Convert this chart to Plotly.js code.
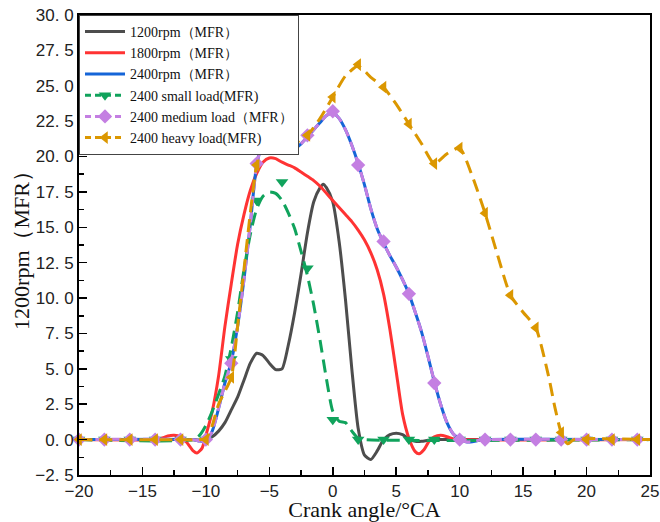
<!DOCTYPE html>
<html>
<head>
<meta charset="utf-8">
<script src="https://cdn.plot.ly/plotly-3.0.1.min.js"></script>
<style>html,body{margin:0;padding:0;background:#fff;}#chart{width:660px;height:522px;}</style>
</head>
<body>
<div id="chart"></div>
<script>
// ---- data ----
const seriesNames = ["1200rpm（MFR）", "1800rpm（MFR）", "2400rpm（MFR）",
  "2400 small load(MFR)", "2400 medium load（MFR）", "2400 heavy load(MFR)"];

const rpm1200_x = [-20,-12,-10,-9.5,-9,-8.5,-8,-7.5,-7,-6.5,-6,-5.5,-5,-4.5,-4,-3.5,-3,-2.5,-2,-1.5,-1,-0.75,-0.5,0,0.5,1,1.5,2,2.5,3,3.5,4,4.5,5,5.5,6,6.5,7,7.5,8,10,15,20,25];
const rpm1200_y = [0,0,0,0.2,0.6,1.2,2.1,3.0,4.2,5.4,6.1,5.95,5.4,4.95,5.0,6.7,9.0,11.7,14.6,16.8,17.8,18.05,17.8,16.8,14.0,9.9,5.0,0.8,-1.1,-1.4,-0.8,0,0.35,0.45,0.35,0.05,-0.12,-0.12,-0.05,0,0,0,0,0];

const rpm1800_x = [-20,-14,-13.5,-13,-12.5,-12,-11.5,-11,-10.7,-10.3,-10,-9.5,-9,-8.5,-8,-7.5,-7,-6.5,-6,-5.5,-5,-4.5,-4,-3.5,-3,-2.5,-2,-1.5,-1,-0.5,0,0.5,1,1.5,2,2.5,3,3.5,4,4.5,5,5.5,6,6.5,6.8,7.2,7.6,8,8.5,9,9.5,10,25];
const rpm1800_y = [0,0,0.1,0.25,0.3,0.2,-0.2,-0.8,-0.95,-0.6,0.3,2.0,4.5,8.0,11.0,13.8,15.9,17.6,18.8,19.6,19.9,19.85,19.6,19.4,19.2,18.9,18.6,18.3,17.9,17.4,16.9,16.4,15.9,15.4,14.8,14.1,13.2,12.0,10.3,7.8,4.8,1.8,0.1,-0.85,-1.0,-0.7,-0.1,0.2,0.3,0.2,0.05,0,0];

const rpm2400_x = [-20,-11,-10.5,-10,-9.5,-9,-8.5,-8,-7.5,-7,-6.5,-6,-5.5,-5,-4.5,-4,-3.5,-3,-2.5,-2,-1.5,-1,-0.5,0,0.5,1,1.5,2,2.5,3,3.5,4,4.5,5,5.5,6,6.5,7,7.5,8,8.5,9,9.5,10,10.5,11,11.5,12,25];
const rpm2400_y = [0,0,-0.1,-0.1,0.6,2.2,4.0,5.5,8.0,11.3,15.2,19.4,21.0,21.4,21.0,20.6,20.4,20.55,20.9,21.4,21.9,22.4,22.9,23.1,22.7,21.9,20.8,19.5,18.0,16.3,14.9,13.9,13.0,12.2,11.3,10.3,9.0,7.6,5.9,4.1,2.5,1.2,0.4,0.05,-0.15,-0.15,-0.05,0,0];

const small_x = [-20,-11,-10.5,-10,-9.5,-9,-8.5,-8,-7.5,-7,-6.5,-6,-5.5,-5,-4.5,-4,-3.5,-3,-2.5,-2,-1.5,-1,-0.5,0,0.5,1,1.5,2,2.5,25];
const small_y = [0,0,0.3,1.0,2.0,3.2,4.5,6.5,9.0,12.0,14.5,16.3,17.2,17.5,17.4,16.9,16.0,14.9,13.3,11.6,9.5,7.0,4.3,2.0,1.3,1.2,0.6,0.1,0,0];

const medium_x = rpm2400_x;
const medium_y = rpm2400_y;

const heavy_x = [-20,-10.5,-10,-9.5,-9,-8,-7.5,-7,-6.5,-6,-5.5,-5,-4.5,-4,-3.5,-3,-2.5,-2,-1,0,1,2,3,4,5,6,7,8,9,10,11,12,13,14,15,16,17,17.5,18,18.5,19,25];
const heavy_y = [0,0,0.05,1.0,2.5,4.4,8.0,12.0,16.0,19.4,20.8,21.3,21.0,20.6,20.7,20.9,21.2,21.5,22.7,24.2,25.7,26.4,25.6,24.9,23.7,22.3,20.9,19.5,20.2,20.6,18.6,16.0,13.0,10.2,9.0,7.9,4.5,2.3,0.5,-0.3,0,0];

// marker points (every 2 °CA)
const marker_x = [-20,-18,-16,-14,-12,-10,-8,-6,-4,-2,0,2,4,6,8,10,12,14,16,18,20,22,24];
const smallMarker_y  = [0,0,0,0,0,0,5.7,16.9,18.2,12.1,1.4,0,0,0,0,0,0,0,0,0,0,0,0];
const mediumMarker_y = [0,0,0,0,0,0,5.4,19.5,20.8,21.5,23.2,19.4,14.0,10.3,4.0,0,0,0,0,0,0,0,0];
const heavyMarker_y  = [0,0,0,0,0,0,4.4,19.4,20.6,21.5,24.2,26.5,24.9,22.3,19.5,20.6,16.0,10.2,7.9,0.5,0,0,0];

const yTickVals = [-2.5,0,2.5,5,7.5,10,12.5,15,17.5,20,22.5,25,27.5,30];
const yTickText = ["−2. 5","0. 0","2. 5","5. 0","7. 5","10. 0","12. 5","15. 0","17. 5","20. 0","22. 5","25. 0","27. 5","30. 0"];

// ---- styles ----
const C = {k:"#4d4d4d", r:"#ff3333", b:"#1565d8", g:"#10a35c", p:"#c47fe2", o:"#db9700"};
const W = 3;
const DASH = "13px,7px";
const SERIF = "'Liberation Serif','Times New Roman',serif";

function line(x, y, color, dash, name, show) {
  return {x:x, y:y, type:"scatter", mode:"lines", name:name, showlegend:show,
    legendgroup:name, line:{color:color, width:W, dash:dash||"solid", shape:"spline", smoothing:0.6},
    hoverinfo:"skip"};
}
function marks(x, y, color, symbol, name) {
  return {x:x, y:y, type:"scatter", mode:"markers", name:name, showlegend:false,
    legendgroup:name, cliponaxis:false,
    marker:{color:color, symbol:symbol, size:11, line:{width:0}}};
}
function legendOnly(color, symbol, name) {
  return {x:[null], y:[null], type:"scatter", mode:"lines+markers", name:name,
    showlegend:true, legendgroup:name,
    line:{color:color, width:W, dash:"6px,4px"},
    marker:{color:color, symbol:symbol, size:11, line:{width:0}}};
}

const traces = [
  line(rpm1200_x, rpm1200_y, C.k, "solid", seriesNames[0], true),
  line(rpm1800_x, rpm1800_y, C.r, "solid", seriesNames[1], true),
  line(rpm2400_x, rpm2400_y, C.b, "solid", seriesNames[2], true),
  line(small_x, small_y, C.g, DASH, seriesNames[3], false),
  marks(marker_x, smallMarker_y, C.g, "triangle-down", seriesNames[3]),
  legendOnly(C.g, "triangle-down", seriesNames[3]),
  line(medium_x, medium_y, C.p, "10px,6px", seriesNames[4], false),
  marks(marker_x, mediumMarker_y, C.p, "diamond", seriesNames[4]),
  legendOnly(C.p, "diamond", seriesNames[4]),
  line(heavy_x, heavy_y, C.o, DASH, seriesNames[5], false),
  marks(marker_x, heavyMarker_y, C.o, "triangle-left", seriesNames[5]),
  legendOnly(C.o, "triangle-left", seriesNames[5])
];

const layout = {
  width:660, height:522,
  margin:{l:79, r:10, t:15, b:47},
  paper_bgcolor:"#fff", plot_bgcolor:"#fff",
  showlegend:true,
  legend:{x:0, y:1, xanchor:"left", yanchor:"top", bgcolor:"#fff",
    bordercolor:"#444", borderwidth:1, itemwidth:40, tracegroupgap:0,
    font:{family:SERIF, size:14, color:"#111"}},
  xaxis:{range:[-20,25], tickmode:"linear", tick0:-20, dtick:5,
    ticks:"inside", ticklen:8, tickwidth:1.5, tickcolor:"#000",
    minor:{tickmode:"linear", tick0:-20, dtick:2.5, ticks:"inside", ticklen:5, tickwidth:1.5, tickcolor:"#000"},
    showline:true, linecolor:"#000", linewidth:2, mirror:true,
    showgrid:false, zeroline:false,
    tickfont:{family:"'Liberation Sans',Arial,sans-serif", size:17, color:"#222"},
    title:{text:"Crank angle/°CA", font:{family:SERIF, size:22, color:"#111"}, standoff:4}},
  yaxis:{range:[-2.5,30], tickmode:"array", tickvals:yTickVals, ticktext:yTickText,
    ticks:"inside", ticklen:8, tickwidth:1.5, tickcolor:"#000",
    minor:{tickmode:"linear", tick0:0, dtick:1.25, ticks:"inside", ticklen:5, tickwidth:1.5, tickcolor:"#000"},
    showline:true, linecolor:"#000", linewidth:2, mirror:true,
    showgrid:false, zeroline:false,
    tickfont:{family:"'Liberation Sans',Arial,sans-serif", size:17, color:"#222"},
    title:{text:"1200rpm（MFR）", font:{family:SERIF, size:22, color:"#111"}, standoff:0}}
};

Plotly.newPlot("chart", traces, layout, {staticPlot:true, displayModeBar:false});
</script>
</body>
</html>
